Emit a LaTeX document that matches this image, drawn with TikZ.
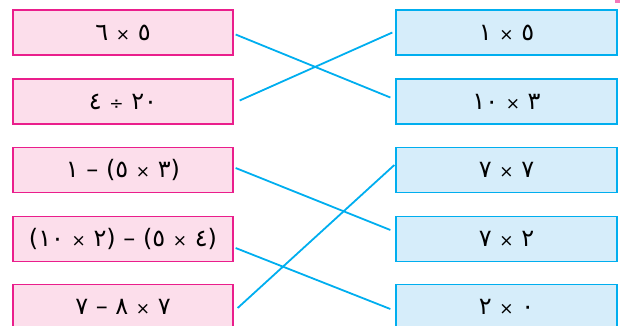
\documentclass[tikz,border=0pt]{standalone}
\usepackage{fontspec}
\usepackage{tikz}
\usetikzlibrary{calc}
\newfontfamily\arabicfont{DejaVu Sans}
\definecolor{pinkcolor}{RGB}{252,222,235}
\definecolor{pinkborder}{RGB}{234,30,140}
\definecolor{bluecolor}{RGB}{214,237,250}
\definecolor{blueborder}{RGB}{0,174,239}
% smaller operator signs, as in the print
\newcommand{\tms}{{\fontsize{17}{20}\selectfont ×}}
\newcommand{\dvd}{{\fontsize{17}{20}\selectfont ÷}}

\begin{document}
\begin{tikzpicture}[x=1pt, y=-1pt, font=\arabicfont\fontsize{24}{28}\selectfont]
    % Define the styles for the boxes and the matching lines
    \tikzstyle{leftbox} = [draw=pinkborder, fill=pinkcolor, line width=1.3pt, minimum width=220pt, minimum height=45pt, inner sep=0pt]
    \tikzstyle{rightbox} = [draw=blueborder, fill=bluecolor, line width=1.3pt, minimum width=221pt, minimum height=45pt, inner sep=0pt]
    \tikzstyle{link} = [draw=blueborder, line width=1.8pt]

    \useasboundingbox (0,0) rectangle (620,325);

    % Left column: expressions
    \node[leftbox] (l1) at (123,32.5) {٦ \tms{} ٥};
    \node[leftbox] (l2) at (123,101.5) {٤ \dvd{} ٢٠};
    \node[leftbox] (l3) at (123,170) {١ – (٥ \tms{} ٣)};
    \node[leftbox] (l4) at (123,239) {(١٠ \tms{} ٢) – (٥ \tms{} ٤)};
    \node[leftbox] (l5) at (123,307) {٧ – ٨ \tms{} ٧};

    % Right column: products
    \node[rightbox] (r1) at (506.5,32.5) {١ \tms{} ٥};
    \node[rightbox] (r2) at (506.5,101.5) {١٠ \tms{} ٣};
    \node[rightbox] (r3) at (506.5,170) {٧ \tms{} ٧};
    \node[rightbox] (r4) at (506.5,239) {٧ \tms{} ٢};
    \node[rightbox] (r5) at (506.5,307) {٢ \tms{} ٠};

    % Matching lines
    \draw[link] ($(l1.east)+(2,2)$) -- ($(r2.west)+(-5,-4)$);
    \draw[link] ($(l2.east)+(6,-1)$) -- ($(r1.west)+(-3,0)$);
    \draw[link] ($(l3.east)+(2,-2)$) -- ($(r4.west)+(-5,-9)$);
    \draw[link] ($(l4.east)+(2,9)$) -- ($(r5.west)+(-5,2)$);
    \draw[link] ($(l5.east)+(4,1)$) -- ($(r3.west)+(-1,-5)$);

    % Small mark at the top corner
    \fill[pinkborder!60] (615,0) rectangle (620,3);
\end{tikzpicture}
\end{document}
